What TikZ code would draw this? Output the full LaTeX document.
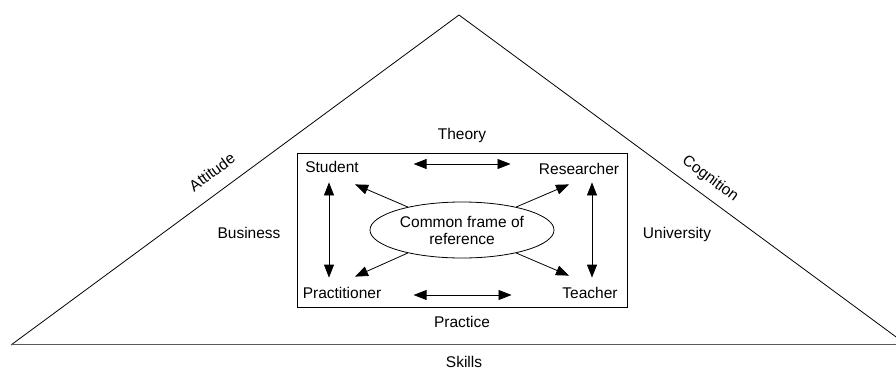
\documentclass[tikz,border=0pt]{standalone}
\usepackage{fontspec}
\setmainfont{Liberation Sans}
\usetikzlibrary{arrows.meta,shapes.geometric}

\begin{document}
\begin{tikzpicture}[x=1pt,y=-1pt,line width=0.8pt,
  >={Triangle[length=13pt,width=10pt]},
  word/.style={inner sep=0pt,text height=11pt,text depth=0pt,
    font=\fontsize{15.5}{17}\selectfont},
  frame node/.style={ellipse,draw,inner sep=0pt,minimum width=184pt,
    minimum height=56pt,align=center,font=\fontsize{15.5}{17}\selectfont},
  link/.style={<->}]

  \useasboundingbox (0,0) rectangle (896,372);

  % the big triangle and its base
  \draw (11,345) -- (459,15) -- (907,345);
  \draw[line width=1.3pt,black!65] (11,344.5) -- (907,344.5);

  \node[word,rotate=36.4] (attitude) at (212,172) {Attitude};
  \node[word,rotate=-36.4] (cognition) at (711,178) {Cognition};
  \node[word] (skills) at (464,362) {Skills};
  \node[word] (business) at (249,233) {Business};
  \node[word] (university) at (677,233) {University};
  \node[word] (theory) at (462,134) {Theory};
  \node[word] (practice) at (462,322) {Practice};

  % inner frame
  \draw (297,153) rectangle (627,307);

  \node[word] (student) at (332,167) {Student};
  \node[word] (researcher) at (579,169) {Researcher};
  \node[word] (practitioner) at (342,293) {Practitioner};
  \node[word] (teacher) at (590,293) {Teacher};
  \node[frame node] (frame) at (462,230) {Common frame of\\reference};

  % two-way links round the frame
  \draw[link,shorten <=54.5pt,shorten >=28pt]
    ([yshift=3pt]student.east) -- ([yshift=3pt]student.east -| researcher.west);
  \draw[link,shorten <=32pt,shorten >=50.5pt]
    ([yshift=-2pt]practitioner.east) -- ([yshift=-2pt]practitioner.east -| teacher.west);
  \draw[link,shorten <=9.5pt,shorten >=9.5pt]
    ([xshift=-3pt]student.south) -- ([xshift=-3pt]student.south |- practitioner.north);
  \draw[link,shorten <=7.5pt,shorten >=9.5pt]
    ([xshift=13pt]researcher.south) -- ([xshift=13pt]researcher.south |- teacher.north);

  % out of the common frame
  \draw[->] (frame.157) -- ([shift={(-4pt,-11.5pt)}]student.south east);
  \draw[->] (frame.23) -- ([shift={(-10pt,-9.5pt)}]researcher.south);
  \draw[->] (frame.203) -- ([shift={(13pt,10.5pt)}]practitioner.north);
  \draw[->] (frame.337) -- ([shift={(-21pt,11.5pt)}]teacher.north);

\end{tikzpicture}
\end{document}
